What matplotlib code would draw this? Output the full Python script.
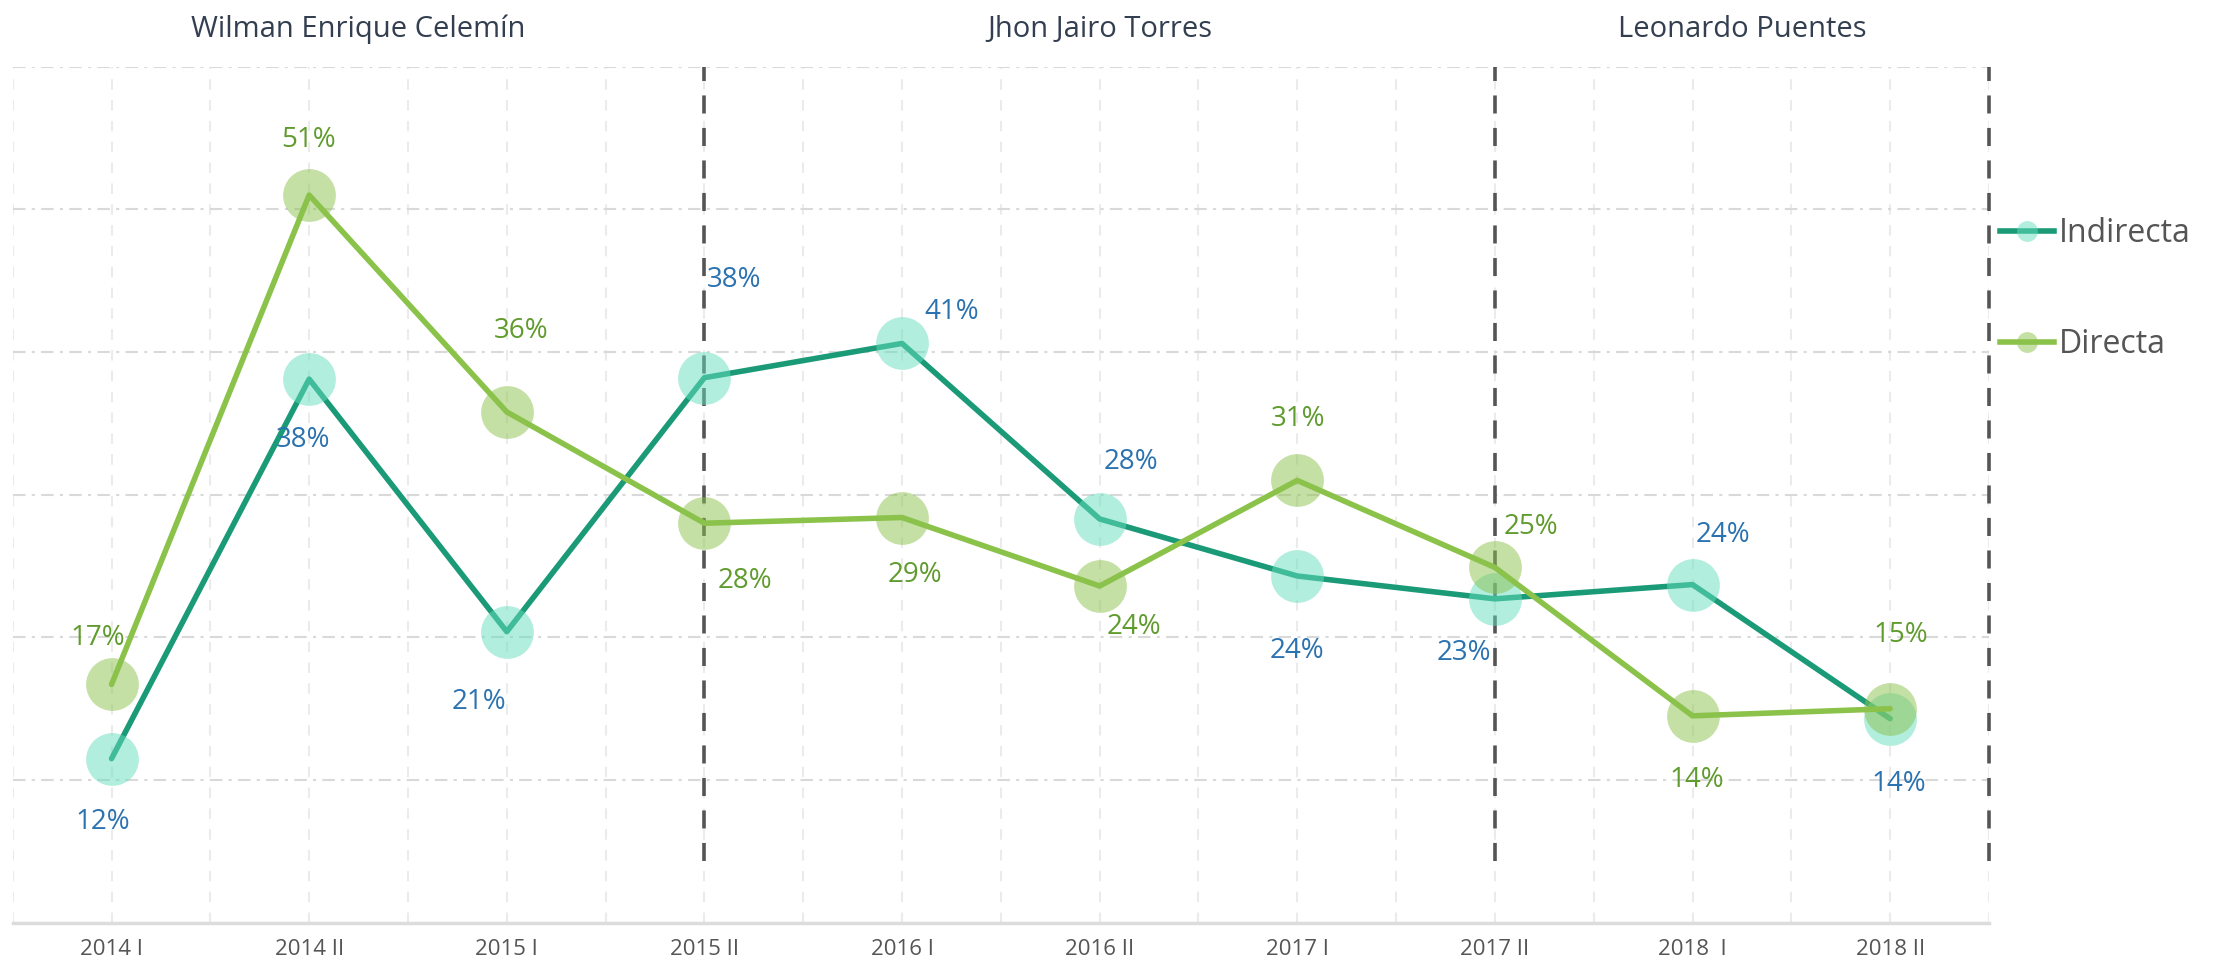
import numpy as np
import matplotlib
matplotlib.use("Agg")
from matplotlib import pyplot as plt
from matplotlib.lines import Line2D

periodos = ['2014 I', '2014 II', '2015 I', '2015 II', '2016 I', '2016 II',
            '2017 I', '2017 II', '2018  I', '2018 II']
indirecta = [11.5, 38.1, 20.4, 38.2, 40.6, 28.3, 24.3, 22.7, 23.7, 14.3]
directa = [16.7, 51.0, 35.8, 28.0, 28.4, 23.6, 31.0, 24.9, 14.5, 15.0]
etq_indirecta = ['12%', '38%', '21%', '38%', '41%', '28%', '24%', '23%', '24%', '14%']
etq_directa = ['17%', '51%', '36%', '28%', '29%', '24%', '31%', '25%', '14%', '15%']
gestores = ['Wilman Enrique Celemín', 'Jhon Jairo Torres', 'Leonardo Puentes']
cortes = [-0.5, 3, 7, 9.5]

# label offsets in pixels (x, y up)
off_ind = [(-9, -63), (-6, -61), (-28, -70), (30, 98), (50, 31), (31, 57),
           (0, -75), (-31, -54), (30, 50), (9, -65)]
off_dir = [(-14, 46), (-1, 55), (14, 81), (41, -58), (13, -57), (34, -41),
           (1, 61), (36, 40), (4, -64), (11, 74)]

plt.rcParams['font.family'] = ['Open Sans', 'DejaVu Sans']

c_ind, c_ind_m, c_ind_t = '#1a9a77', (0.40, 0.87, 0.75, 0.5), '#2b72b0'
c_dir, c_dir_m, c_dir_t = '#8bc34a', (0.55, 0.76, 0.30, 0.5), '#609b2d'

fig = plt.figure(figsize=(22.31, 9.66), dpi=100)
ax = fig.add_axes([0.0057, 0.0448, 0.8858, 0.8862])

x = np.arange(len(periodos))
y_ind = np.array(indirecta) / 100
y_dir = np.array(directa) / 100

ax.plot(x, y_ind, color=c_ind, lw=4, marker='o', ms=38, mfc=c_ind_m,
        mec='none', solid_capstyle='round', zorder=3)
ax.plot(x, y_dir, color=c_dir, lw=4, marker='o', ms=38, mfc=c_dir_m,
        mec='none', solid_capstyle='round', zorder=4)

for i in range(len(x)):
    ax.annotate(etq_indirecta[i], (x[i], y_ind[i]), xytext=off_ind[i],
                textcoords='offset pixels', ha='center', va='center',
                fontsize=20, color=c_ind_t, zorder=5)
    ax.annotate(etq_directa[i], (x[i], y_dir[i]), xytext=off_dir[i],
                textcoords='offset pixels', ha='center', va='center',
                fontsize=20, color=c_dir_t, zorder=5)

# separators between periods
for c in cortes[1:]:
    ax.plot([c, c], [0.043, 0.6], color='#555555', lw=2.6,
            dashes=(5, 4), zorder=2, clip_on=False)

for k in range(len(gestores)):
    ax.annotate(gestores[k], ((cortes[k] + cortes[k + 1]) / 2, 1),
                xycoords=('data', 'axes fraction'), xytext=(0, 37),
                textcoords='offset pixels', ha='center', va='center',
                fontsize=21, color='#333f50')

ax.set_xlim(-0.5, 9.5)
ax.set_ylim(0, 0.6)
ax.set_xticks(x)
ax.set_xticklabels(periodos, fontsize=16, color='#555555')
ax.set_xticks(np.arange(-0.5, 9.6, 0.5), minor=True)
ax.set_yticks(np.arange(0.1, 0.61, 0.1))
ax.set_yticklabels([])
ax.tick_params(axis='both', which='both', length=0, pad=12)
ax.grid(axis='x', which='both', color='#ebebeb', lw=1.5, ls=(0, (5, 5)))
ax.grid(axis='y', which='major', color='#d9d9d9', lw=1.5, ls=(0, (6, 3, 1.5, 3)))
ax.set_axisbelow(True)
for s in ['top', 'left', 'right']:
    ax.spines[s].set_visible(False)
ax.spines['bottom'].set_color('#dcdcdc')
ax.spines['bottom'].set_linewidth(2.5)

handles = [Line2D([], [], color=c_ind, lw=4, marker='o', ms=15, mfc=c_ind_m, mec='none'),
           Line2D([], [], color=c_dir, lw=4, marker='o', ms=15, mfc=c_dir_m, mec='none')]
fig.legend(handles, ['Indirecta', 'Directa'], loc='center left',
           bbox_to_anchor=(2000 / 2231, 1 - 289 / 966), frameon=False,
           fontsize=23, labelcolor='#555555', handlelength=1.7,
           handletextpad=0.15, labelspacing=2.45, borderpad=0, borderaxespad=0)

fig.savefig('out.png', dpi=100)
